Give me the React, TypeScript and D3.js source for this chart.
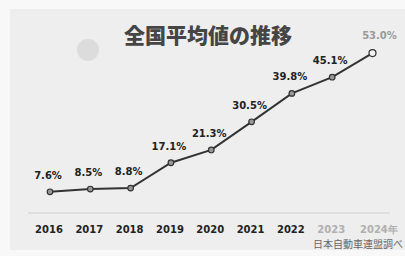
import React from "react";
import * as d3 from "d3";

const years = ["2016", "2017", "2018", "2019", "2020", "2021", "2022", "2023", "2024"];
const yearLabels = ["2016", "2017", "2018", "2019", "2020", "2021", "2022", "2023", "2024年"];
const values = [7.6, 8.5, 8.8, 17.1, 21.3, 30.5, 39.8, 45.1, 53.0];
const valueLabels = ["7.6%", "8.5%", "8.8%", "17.1%", "21.3%", "30.5%", "39.8%", "45.1%", "53.0%"];
const title = "全国平均値の推移";
const source = "日本自動車連盟調べ";

export default function App() {
  const W = 405, H = 256;
  const x = d3.scalePoint<string>().domain(years).range([50, 372.5]);
  const y = d3.scaleLinear().domain([0, 60]).range([215, 31.7]);
  const line = d3.line<number>()
    .x((_, i) => x(years[i]) as number)
    .y((d) => y(d));
  const last = values.length - 1;
  return (
    <svg width={W} height={H} style={{ position: "absolute", left: 0, top: 0 }}>
      <rect x={0} y={0} width={W} height={H} fill="#f8f8f8" />
      <rect x={10} y={9} width={W - 10} height={241} fill="#eeeeee" />
      <circle cx={88} cy={50} r={11} fill="#dcdcdc" />
      <text x={208} y={43} textAnchor="middle" fontFamily="'Noto Sans CJK JP'" fontWeight="900" fontSize={21} fill="#454545">{title}</text>
      <line x1={28} x2={390} y1={213} y2={213} stroke="#cfcfcf" strokeWidth={1} />
      <path d={line(values) || ""} fill="none" stroke="#333" strokeWidth={2} />
      {values.map((v, i) => (
        <circle key={"m" + i} cx={x(years[i])} cy={y(v)} r={i === last ? 3.5 : 2.8}
          fill={i === last ? "#f4f4f4" : "#999"} stroke="#333" strokeWidth={1.2} />
      ))}
      {values.map((v, i) => (
        <text key={"l" + i} x={(x(years[i]) as number) + (i === last ? 7 : -2)} y={y(v) - (i === last ? 14 : 13)}
          textAnchor="middle" fontFamily="'DejaVu Sans'" fontWeight="bold" fontSize={10}
          fill={i === last ? "#9a9a9a" : "#222"}>{valueLabels[i]}</text>
      ))}
      {yearLabels.map((t, i) => (
        <text key={"y" + i} x={i === last ? 360 : (x(years[i]) as number) - 1} y={233}
          textAnchor={i === last ? "start" : "middle"} fontFamily="'DejaVu Sans'" fontWeight="bold" fontSize={10}
          fill={i >= 7 ? "#b0b0b0" : "#222"}>{t}</text>
      ))}
      <text x={313} y={248} fontFamily="'Noto Sans CJK JP'" fontSize={10} fill="#666">{source}</text>
    </svg>
  );
}
